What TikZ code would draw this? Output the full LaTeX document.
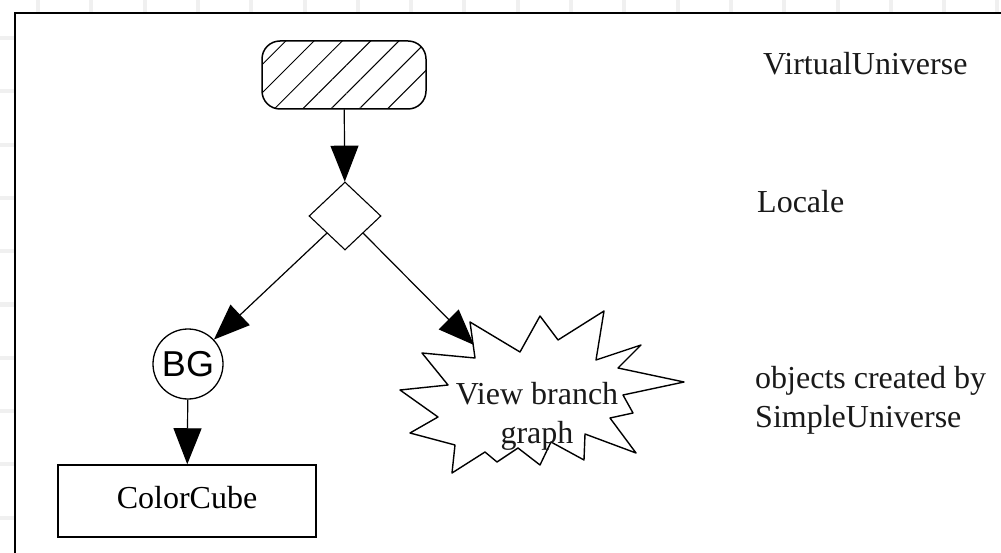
\documentclass[tikz,border=0pt]{standalone}
\usepackage{fontspec}
\setmainfont{Liberation Serif}
\newfontfamily\bgfont{Liberation Sans}
\usetikzlibrary{arrows.meta,shapes.geometric,patterns.meta}
\begin{document}
\begin{tikzpicture}[x=1pt,y=-1pt,
  gridline/.style={draw=black!6,line width=4pt},
  panel/.style={draw=black,fill=white,line width=1.5pt},
  lbl/.style={font=\fontsize{32}{39}\selectfont,inner sep=0pt,text=black!90},
  conn/.style={line width=1.2pt,-{Triangle[length=36pt,width=28pt]}},
  vubox/.style={draw,line width=1.5pt,rounded corners=18pt,minimum width=164pt,minimum height=68pt,
    pattern={Lines[angle=45,distance=20pt,line width=1pt]}},
  locale/.style={diamond,draw,line width=1.1pt,fill=white,minimum width=72pt,minimum height=68pt,inner sep=0pt},
  bgnode/.style={circle,draw,line width=1.3pt,minimum size=70pt,inner sep=0pt,font=\bgfont\fontsize{36}{40}\selectfont},
  leafbox/.style={draw,line width=1.5pt,minimum width=258pt,minimum height=72pt,inner sep=0pt,
    font=\fontsize{32}{39}\selectfont,text depth=7pt},
  burst/.style={draw,line width=1.4pt,fill=white,line join=round}]
\useasboundingbox (0,0) rectangle (1001,553);
\clip (0,0) rectangle (1001,553);
\fill[white] (0,0) rectangle (1001,553);
\foreach \i in {0,...,18} \draw[gridline] ({38+53.3*\i},0) -- ({38+53.3*\i},553);
\foreach \i in {0,...,9} \draw[gridline] (0,{38+53.3*\i}) -- (1001,{38+53.3*\i});
\draw[panel] (15,13) rectangle (1030,580);

% view branch starburst
\draw[burst] (470,322) -- (520,352) -- (540,316) -- (558,340) -- (604,311) -- (596,360)
  -- (641,345) -- (618,368) -- (684,382) -- (623,395) -- (633,413) -- (610,418)
  -- (636,453) -- (585,434) -- (584,460) -- (551,442) -- (540,465) -- (518,448)
  -- (497,462) -- (485,452) -- (452,473) -- (455,445) -- (410,433) -- (438,417)
  -- (400,390) -- (448,385) -- (422,353) -- (475,358) -- cycle;
\node[lbl,align=center,text depth=7pt] (vb) at (537,416) {View branch\\graph};
\coordinate (vbtip) at (474,345);

\node[vubox] (vu) at (344,75) {};
\node[locale] (loc) at (345,216) {};
\node[bgnode] (bg) at (188,364) {BG};
\node[leafbox] (cc) at (187,501) {ColorCube};

\draw[conn] (vu) -- (loc);
\draw[conn] (loc.south west) -- (bg);
\draw[conn] (loc.south east) -- (vbtip);
\draw[conn] (bg) -- (cc);

\node[lbl,anchor=base west] (tvu) at (763,75) {VirtualUniverse};
\node[lbl,anchor=base west] (tloc) at (757,213) {Locale};
\node[lbl,anchor=base west,align=left] (tobj) at (755,427) {objects created by\\SimpleUniverse};
\end{tikzpicture}
\end{document}
